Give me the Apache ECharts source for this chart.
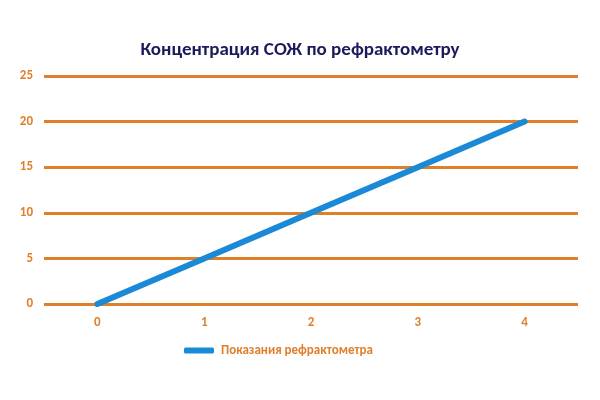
<!DOCTYPE html>
<html><head><meta charset="utf-8">
<script src="https://cdn.jsdelivr.net/npm/echarts@6/dist/echarts.min.js"></script>
<style>html,body{margin:0;padding:0;background:#fff}#c{width:600px;height:400px}</style>
</head><body><div id="c"></div>
<script>
const categories = ['0','1','2','3','4'];
const seriesName = 'Показания рефрактометра';
const values = [0, 5, 10, 15, 20];
const titleText = 'Концентрация СОЖ по рефрактометру';
const yMin = 0, yMax = 25, yStep = 5;

const orange = '#df7f2a';
const ff = 'Carlito, Lato, "Open Sans", sans-serif';
const chart = echarts.init(document.getElementById('c'));
chart.setOption({
  backgroundColor: '#fff',
  title: { text: titleText, left: 'center', top: 36,
    textStyle: { color: '#1d1a5c', fontSize: 19, fontWeight: 'bold', fontFamily: ff } },
  legend: { bottom: 38, left: 179, itemWidth: 30, itemHeight: 6,
    icon: 'roundRect',
    textStyle: { color: orange, fontSize: 13, fontWeight: 'bold', fontFamily: ff, padding: [0,0,0,2] },
    data: [{ name: seriesName, itemStyle: { color: '#1a8ad6' } }] },
  grid: { left: 44, right: 22, top: 76, bottom: 96 },
  xAxis: { type: 'category', data: categories, boundaryGap: true,
    axisLine: { show: false }, axisTick: { show: false },
    axisLabel: { color: orange, fontSize: 13, fontWeight: 'bold', fontFamily: ff, margin: 12 } },
  yAxis: { type: 'value', min: yMin, max: yMax, interval: yStep,
    axisLine: { show: false }, axisTick: { show: false },
    axisLabel: { color: orange, fontSize: 13, fontWeight: 'bold', fontFamily: ff, margin: 11 },
    splitLine: { lineStyle: { color: orange, width: 3 } } },
  series: [{ name: seriesName, type: 'line', data: values, symbol: 'none',
    lineStyle: { color: '#1a8ad6', width: 6, cap: 'round' }, itemStyle: { color: '#1a8ad6' } }]
});
</script></body></html>
